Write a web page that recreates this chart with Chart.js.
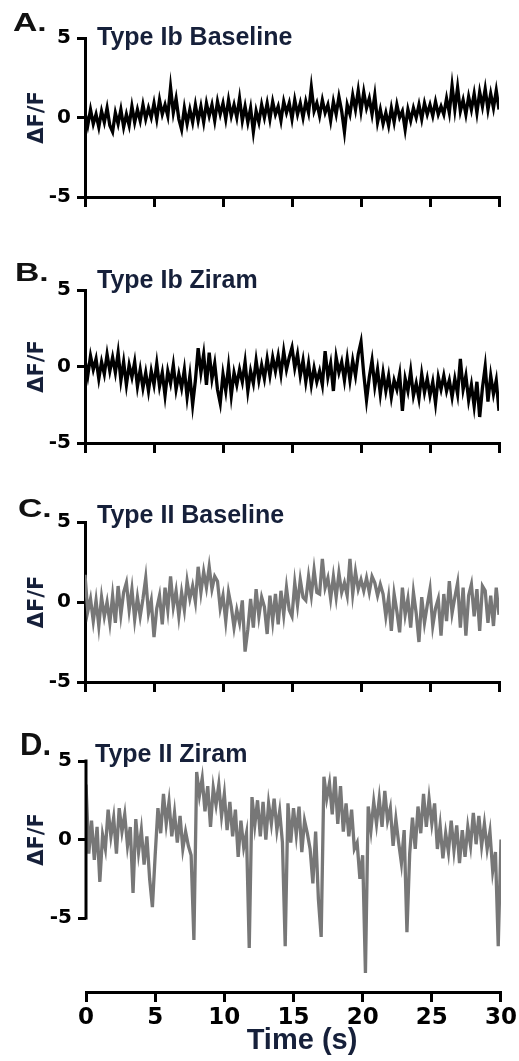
<!DOCTYPE html>
<html><head><meta charset="utf-8">
<script src="https://cdn.jsdelivr.net/npm/chart.js@4.4.1/dist/chart.umd.min.js"></script>
<style>
html,body{margin:0;padding:0;background:#fff;}
#wrap{position:relative;width:519px;height:1061px;overflow:hidden;background:#fff;}
canvas{position:absolute;left:0;}
</style></head><body><div id="wrap">
<canvas id="cA" width="519" height="215" style="top:0px"></canvas>
<canvas id="cB" width="519" height="210" style="top:255px"></canvas>
<canvas id="cC" width="519" height="210" style="top:490px"></canvas>
<canvas id="cD" width="519" height="341" style="top:720px"></canvas>
</div>
<script>
// ---- data (sampled every 0.2 s, 0..30 s) ----
const SAMPLE_STEP = 0.2;
const timeTicks = [0, 5, 10, 15, 20, 25, 30];
const yTicks = [-5, 0, 5];
const panelLetters = ['A.', 'B.', 'C.', 'D.'];
const panelTitles = ['Type Ib Baseline', 'Type Ib Ziram', 'Type II Baseline', 'Type II Ziram'];
const yAxisLabel = 'ΔF/F';
const xAxisLabel = 'Time (s)';

const ibBaseline = [
 0.3,-0.5,0.5,-0.4,0.2,  -0.6,0.4,-0.3,0.6,-0.5,  -0.9,0.3,-0.4,0.5,-0.6,  0.2,-0.5,0.7,-0.3,0.5,
 -0.2,0.8,-0.1,0.6,0.0,  0.9,-0.1,1.1,0.2,0.8,  0.1,1.9,0.3,1.2,-0.1,  -0.75,0.6,-0.4,0.5,-0.3,
 0.8,-0.2,0.7,-0.3,0.9,  0.1,0.8,-0.2,1.0,0.2,  0.9,-0.1,1.1,0.1,0.8,  0.0,1.2,-0.2,0.7,-0.3,
 0.6,-0.9,0.4,-0.3,0.8,  0.0,0.9,-0.1,1.0,0.2,  0.7,-0.2,1.0,0.3,0.9,  -0.1,1.1,0.2,0.9,0.0,
 1.0,0.3,1.9,0.4,0.9,  0.1,1.1,0.3,0.8,-0.2,  1.0,0.2,1.3,0.4,-0.9,  0.8,0.2,1.4,0.5,1.7,
 0.4,1.6,0.6,1.2,0.2,  1.4,-0.3,0.5,-0.4,0.3,  -0.5,0.6,-0.3,0.8,0.0,  0.4,-0.75,0.5,-0.2,0.6,
 0.0,0.8,-0.1,0.9,0.2,  0.8,0.1,1.0,0.2,0.7,  0.2,1.2,0.3,2.0,0.5,  1.9,0.4,1.1,0.2,1.3,
 0.5,1.5,0.3,1.6,0.7,  1.8,0.5,1.5,0.6,1.7,  0.5
];
const ibZiram = [
 0.4,-0.6,0.7,-0.2,0.5,  -0.8,0.3,-0.5,0.8,-0.3,  0.6,-0.4,0.9,-0.9,0.3,  -1.2,0.1,-0.7,0.3,-1.3,
 -0.2,-1.4,-0.4,-1.6,-0.3,  -1.2,0.2,-1.3,-0.4,-1.9,  -0.3,-1.1,0.1,-1.5,-0.5,  -1.4,-0.2,-2.0,-0.6,-2.5,
 -0.9,1.2,-0.4,0.8,-1.2,  0.9,-0.8,0.2,-1.5,-2.4,  -0.5,-1.6,0.0,-1.9,-0.4,  -1.2,-0.2,-1.0,0.3,-1.6,
 -0.3,-1.1,0.4,-0.9,0.1,  -0.8,0.5,-0.6,0.6,-0.3,  0.7,-0.5,1.0,-0.2,0.6,  1.25,-0.1,0.8,-0.6,0.4,
 -1.0,0.2,-1.2,-0.1,-1.0,  -0.3,-1.2,1.0,-0.7,0.2,  -1.6,0.6,-0.4,0.3,-0.9,  0.5,-0.9,0.4,-0.6,0.8,
 1.6,-0.5,-2.2,-0.7,0.4,  -1.3,-0.2,-1.8,-0.4,-1.6,  -0.6,-2.0,-0.9,-1.5,-0.5,  -2.9,-0.8,-1.6,-0.3,-1.9,
 -1.1,-2.1,-0.5,-1.7,-0.8,  -1.9,-1.0,-2.4,-0.7,-1.5,  -0.6,-1.6,-0.9,-2.0,-0.8,  -1.8,0.5,-1.5,-0.6,-2.2,
 -1.2,-2.6,-1.0,-3.3,-1.4,  0.0,-2.3,-0.6,-1.8,-0.9,  -2.9
];
const iiBaseline = [
 1.7,-0.6,0.2,-1.2,0.1,  -1.5,0.3,-0.9,0.0,-1.3,  0.4,-1.3,1.0,-0.8,0.6,  1.2,-0.5,0.8,-1.1,0.3,
 -0.9,0.2,1.5,-0.7,0.1,  -2.2,-0.4,0.4,-1.4,0.9,  -0.5,1.6,-0.3,0.7,-0.9,  0.6,-0.5,1.3,0.2,1.0,
 0.0,2.2,0.6,1.9,0.9,  2.2,0.8,1.6,1.3,-0.4,  0.4,-1.2,0.6,-0.3,-1.6,  -0.5,-1.3,0.1,-3.1,-1.7,
 0.2,-1.6,0.8,-0.9,0.3,  -0.3,-2.0,0.4,-1.2,0.5,  -1.4,0.7,-0.8,0.9,-0.5,  -0.9,1.2,-0.2,1.4,0.3,
 0.1,1.6,0.4,2.0,0.6,  0.5,2.7,0.9,1.5,0.2,  1.6,0.3,1.8,0.6,1.2,  0.4,2.7,0.5,1.9,0.8,
 1.4,0.7,1.5,0.6,1.6,  1.2,0.4,1.1,0.5,-0.9,  0.3,-1.8,0.5,-0.6,-1.9,  0.9,-0.8,0.2,-1.6,0.6,
 -0.7,-2.5,0.3,-1.3,-0.2,  0.8,-1.5,-0.4,0.2,-2.1,  0.5,-1.2,1.3,-0.7,0.3,  1.2,-1.6,0.9,-2.1,0.4,
 1.1,-0.9,0.8,-1.8,1.0,  0.7,-1.3,0.4,-1.5,0.9,  -0.8
];
const iiZiram = [
 3.5,-0.9,1.2,-1.3,0.8,  -2.7,0.3,-0.6,1.9,0.2,  1.4,-0.9,2.0,0.5,1.6,  -0.4,0.8,-3.4,1.3,-0.8,
 0.6,-1.6,0.2,-2.5,-4.3,  -1.0,2.0,0.4,2.9,1.0,  2.4,0.2,1.7,-0.2,1.5,  -0.6,0.5,-0.4,-1.0,-6.4,
 4.3,2.8,3.9,1.8,3.4,  0.8,3.3,2.2,3.5,1.5,  2.9,0.6,2.4,0.2,1.9,  -1.1,1.2,-0.5,0.4,-6.9,
 2.7,0.9,2.5,0.2,2.4,  0.0,2.3,1.0,2.6,0.6,  1.8,-0.2,-6.8,2.3,-0.2,  2.0,0.3,2.1,-0.8,1.2,
 0.4,-0.6,-2.8,0.5,-3.8,  -6.2,4.0,2.6,3.6,1.6,  4.0,1.0,3.4,0.5,2.3,  0.2,1.9,-0.6,-0.2,-2.5,
 -1.0,-8.5,2.1,0.6,2.4,  1.0,2.6,0.8,3.1,1.2,  2.0,-0.4,1.3,-0.2,-1.5,  0.6,-5.9,-0.9,1.4,-0.6,
 2.1,0.4,2.9,0.8,2.6,  1.0,2.3,-0.6,0.9,-1.2,  0.4,-0.8,1.2,-0.7,0.9,  -1.5,0.6,-1.1,0.8,-0.4,
 1.7,-0.3,1.5,-0.4,1.0,  -0.6,0.5,-2.0,-0.8,-6.8,  0.0
];

// ---- layout (page pixels) ----
const panels = [
 {canvas:'cA', top:0,   h:215, areaTop:38,  areaBottom:200, left:85, right:499, yMin:-5,    series:ibBaseline, color:'#000000',
  letterX:13, letterY:31, letterFont:'bold 25px "Liberation Sans", Arial, sans-serif', letterSX:1.35, titleX:97, titleY:45},
 {canvas:'cB', top:255, h:210, areaTop:290, areaBottom:443, left:85, right:499, yMin:-5,    series:ibZiram, color:'#000000',
  letterX:15, letterY:281, letterFont:'bold 25px "Liberation Sans", Arial, sans-serif', letterSX:1.35, titleX:97, titleY:288},
 {canvas:'cC', top:490, h:210, areaTop:522, areaBottom:682, left:85, right:499, yMin:-5,    series:iiBaseline, color:'#777777',
  letterX:18, letterY:517, letterFont:'bold 25px "Liberation Sans", Arial, sans-serif', letterSX:1.35, titleX:97, titleY:523},
 {canvas:'cD', top:720, h:341, areaTop:761, areaBottom:992, left:86, right:502, yMin:-9.71, series:iiZiram, color:'#777777',
  letterX:20, letterY:755, letterFont:'bold 31px "Liberation Sans", Arial, sans-serif', letterSX:1.0, titleX:95, titleY:762,
  spine:true, xLabels:true, xTitleX:302, xTitleY:1049}
];

const panelText = {
  id:'panelText',
  afterDraw(chart, args, o){
    const ctx = chart.ctx, ys = chart.scales.y, ca = chart.chartArea;
    ctx.save();
    ctx.textAlign = 'left'; ctx.textBaseline = 'alphabetic';
    ctx.fillStyle = '#111111'; ctx.font = o.letterFont;
    ctx.save(); ctx.translate(o.letterX, o.letterY); ctx.scale(o.letterSX, 1);
    ctx.fillText(o.letter, 0, 0); ctx.restore();
    ctx.fillStyle = '#16203a';
    ctx.font = 'bold 25px "Liberation Sans", Arial, sans-serif';
    ctx.fillText(o.title, o.titleX, o.titleY);
    ctx.save(); ctx.translate(37.5, ys.getPixelForValue(0)); ctx.rotate(-Math.PI/2);
    ctx.textAlign = 'center'; ctx.textBaseline = 'middle';
    ctx.font = 'bold 21px "DejaVu Sans", sans-serif';
    ctx.fillText(yAxisLabel, 0, 0); ctx.restore();
    if (o.spine) {
      ctx.strokeStyle = '#000'; ctx.lineWidth = 3; ctx.beginPath();
      ctx.moveTo(ca.left, ys.getPixelForValue(5) - 1.5);
      ctx.lineTo(ca.left, ys.getPixelForValue(-5) + 1.5);
      ctx.stroke();
    }
    if (o.xTitle) {
      ctx.textAlign = 'center'; ctx.textBaseline = 'alphabetic';
      ctx.font = 'bold 29px "Liberation Sans", Arial, sans-serif';
      ctx.fillText(o.xTitle, o.xTitleX, o.xTitleY);
    }
    ctx.restore();
  }
};

panels.forEach((p, i) => {
  const data = p.series.map((v, k) => ({x: k * SAMPLE_STEP, y: v}));
  const xH = p.top + p.h - p.areaBottom;
  new Chart(document.getElementById(p.canvas), {
    type: 'line',
    data: {datasets: [{data, borderColor: p.color, borderWidth: 3.3, pointRadius: 0, tension: 0, fill: false}]},
    options: {
      responsive: false, animation: false, events: [],
      layout: {padding: {top: p.areaTop - p.top, right: 519 - p.right, left: 0, bottom: 0}},
      plugins: {
        legend: {display: false}, tooltip: {enabled: false},
        panelText: {
          letter: panelLetters[i], title: panelTitles[i],
          letterX: p.letterX, letterY: p.letterY - p.top, letterFont: p.letterFont, letterSX: p.letterSX,
          titleX: p.titleX, titleY: p.titleY - p.top, spine: !!p.spine,
          xTitle: p.xLabels ? xAxisLabel : null, xTitleX: p.xTitleX, xTitleY: (p.xTitleY || 0) - p.top
        }
      },
      scales: {
        x: {
          type: 'linear', min: 0, max: 30,
          afterBuildTicks: s => { s.ticks = timeTicks.map(v => ({value: v})); },
          afterFit: s => { s.height = xH; },
          border: {display: true, color: '#000', width: 3},
          grid: {display: true, drawOnChartArea: false, drawTicks: true, tickLength: 10, lineWidth: 3, color: '#000'},
          ticks: {display: !!p.xLabels, autoSkip: false, maxRotation: 0, padding: 2, color: '#000',
                  font: {family: '"DejaVu Sans", sans-serif', weight: 'bold', size: 23}}
        },
        y: {
          type: 'linear', min: p.yMin, max: 5,
          afterBuildTicks: s => { s.ticks = yTicks.map(v => ({value: v})); },
          afterFit: s => { s.width = p.left; },
          border: {display: !p.spine, color: '#000', width: 3},
          grid: {display: true, drawOnChartArea: false, drawTicks: true, tickLength: 8, lineWidth: 3, color: '#000'},
          ticks: {padding: 6, color: '#000', font: {family: '"DejaVu Sans", sans-serif', weight: 'bold', size: 20}}
        }
      }
    },
    plugins: [panelText]
  });
});
</script>
</body></html>
